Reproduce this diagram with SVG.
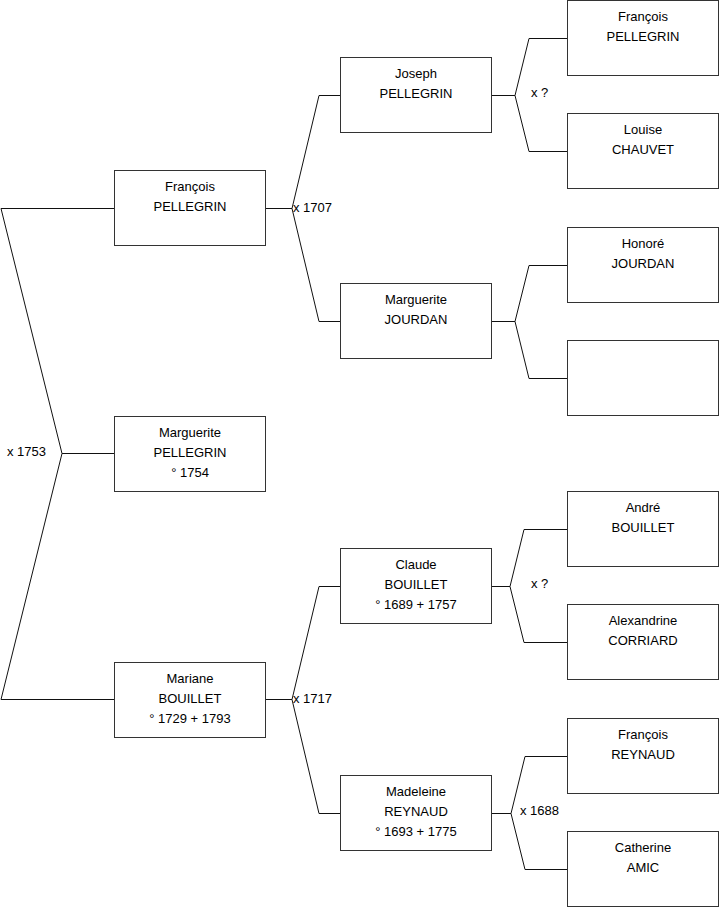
<svg xmlns="http://www.w3.org/2000/svg" width="719" height="908" viewBox="0 0 719 908">
<style>
.box{fill:#fff;stroke:#333;stroke-width:1}
.ln{fill:none;stroke:#111;stroke-width:1}
text{font-family:"Liberation Sans",Arial,sans-serif;font-size:13px;fill:#000}
.c{text-anchor:middle}
</style>
<rect x="0" y="0" width="719" height="908" fill="#fff"/>
<g id="connectors" class="ln">
<path d="M1,208.5H114.5M1,208.5L62,453.5L1,699.5M62,453.5H114.5M1,699.5H114.5"/>
<path d="M265.5,208.5H292M292,208.5L319,95.5H340.5M292,208.5L319,321.5H340.5"/>
<path d="M265.5,699.5H292M292,699.5L319,586.5H340.5M292,699.5L319,813.5H340.5"/>
<path d="M491.5,95.5H515M515,95.5L529,38.5H567.5M515,95.5L529,151.5H567.5"/>
<path d="M491.5,321.5H515M515,321.5L529,265.5H567.5M515,321.5L529,378.5H567.5"/>
<path d="M491.5,586.5H510M510,586.5L524,529.5H567.5M510,586.5L524,642.5H567.5"/>
<path d="M491.5,813.5H511M511,813.5L525,756.5H567.5M511,813.5L525,869.5H567.5"/>
</g>
<g id="labels">
<text x="7" y="456">x 1753</text>
<text x="293" y="211.5">x 1707</text>
<text x="293" y="702.5">x 1717</text>
<text x="531" y="96.5">x ?</text>
<text x="531" y="587.5">x ?</text>
<text x="520" y="814.5">x 1688</text>
</g>
<g id="n_francois_pellegrin_1"><rect class="box" x="114.5" y="170.5" width="151" height="75"/><text class="c" x="190" y="190.5">François</text><text class="c" x="190" y="210.5">PELLEGRIN</text></g>
<g id="n_marguerite_pellegrin"><rect class="box" x="114.5" y="416.5" width="151" height="75"/><text class="c" x="190" y="437">Marguerite</text><text class="c" x="190" y="457">PELLEGRIN</text><text class="c" x="190" y="477">° 1754</text></g>
<g id="n_mariane_bouillet"><rect class="box" x="114.5" y="662.5" width="151" height="75"/><text class="c" x="190" y="682.5">Mariane</text><text class="c" x="190" y="702.5">BOUILLET</text><text class="c" x="190" y="722.5">° 1729 + 1793</text></g>
<g id="n_joseph_pellegrin"><rect class="box" x="340.5" y="57.5" width="151" height="75"/><text class="c" x="416" y="77.5">Joseph</text><text class="c" x="416" y="97.5">PELLEGRIN</text></g>
<g id="n_marguerite_jourdan"><rect class="box" x="340.5" y="283.5" width="151" height="75"/><text class="c" x="416" y="303.5">Marguerite</text><text class="c" x="416" y="323.5">JOURDAN</text></g>
<g id="n_claude_bouillet"><rect class="box" x="340.5" y="548.5" width="151" height="75"/><text class="c" x="416" y="568.5">Claude</text><text class="c" x="416" y="588.5">BOUILLET</text><text class="c" x="416" y="608.5">° 1689 + 1757</text></g>
<g id="n_madeleine_reynaud"><rect class="box" x="340.5" y="775.5" width="151" height="75"/><text class="c" x="416" y="795.5">Madeleine</text><text class="c" x="416" y="815.5">REYNAUD</text><text class="c" x="416" y="835.5">° 1693 + 1775</text></g>
<g id="n_francois_pellegrin_2"><rect class="box" x="567.5" y="0.5" width="151" height="75"/><text class="c" x="643" y="20.5">François</text><text class="c" x="643" y="40.5">PELLEGRIN</text></g>
<g id="n_louise_chauvet"><rect class="box" x="567.5" y="113.5" width="151" height="75"/><text class="c" x="643" y="133.5">Louise</text><text class="c" x="643" y="153.5">CHAUVET</text></g>
<g id="n_honore_jourdan"><rect class="box" x="567.5" y="227.5" width="151" height="75"/><text class="c" x="643" y="247.5">Honoré</text><text class="c" x="643" y="267.5">JOURDAN</text></g>
<g id="n_unknown"><rect class="box" x="567.5" y="340.5" width="151" height="75"/></g>
<g id="n_andre_bouillet"><rect class="box" x="567.5" y="491.5" width="151" height="75"/><text class="c" x="643" y="511.5">André</text><text class="c" x="643" y="531.5">BOUILLET</text></g>
<g id="n_alexandrine_corriard"><rect class="box" x="567.5" y="604.5" width="151" height="75"/><text class="c" x="643" y="624.5">Alexandrine</text><text class="c" x="643" y="644.5">CORRIARD</text></g>
<g id="n_francois_reynaud"><rect class="box" x="567.5" y="718.5" width="151" height="75"/><text class="c" x="643" y="738.5">François</text><text class="c" x="643" y="758.5">REYNAUD</text></g>
<g id="n_catherine_amic"><rect class="box" x="567.5" y="831.5" width="151" height="75"/><text class="c" x="643" y="851.5">Catherine</text><text class="c" x="643" y="871.5">AMIC</text></g>
</svg>
